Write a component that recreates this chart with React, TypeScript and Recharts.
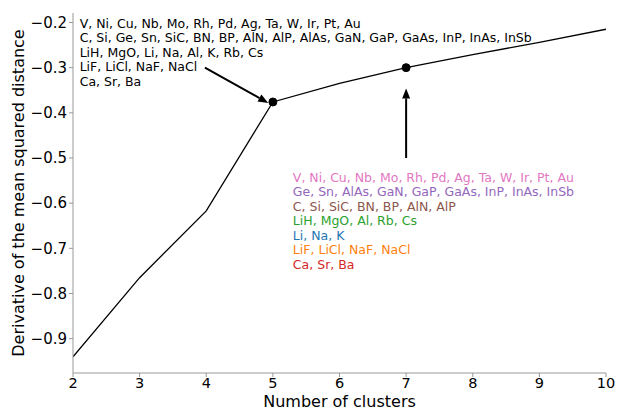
import React from "react";
import {
  LineChart, Line, XAxis, YAxis, ReferenceDot, ReferenceLine,
} from "recharts";

// k-means: derivative of mean squared distance vs number of clusters
const clusters = [2, 3, 4, 5, 6, 7, 8, 9, 10];
const derivative = [-0.94, -0.765, -0.617, -0.376, -0.335, -0.3, -0.271, -0.244, -0.215];

const xTicks = [2, 3, 4, 5, 6, 7, 8, 9, 10];
const yTicks = [-0.9, -0.8, -0.7, -0.6, -0.5, -0.4, -0.3, -0.2];

// groupings for 5 clusters (black) and 7 clusters (coloured)
const groups5 = [
  "V, Ni, Cu, Nb, Mo, Rh, Pd, Ag, Ta, W, Ir, Pt, Au",
  "C, Si, Ge, Sn, SiC, BN, BP, AlN, AlP, AlAs, GaN, GaP, GaAs, InP, InAs, InSb",
  "LiH, MgO, Li, Na, Al, K, Rb, Cs",
  "LiF, LiCl, NaF, NaCl",
  "Ca, Sr, Ba",
];
const groups7 = [
  "V, Ni, Cu, Nb, Mo, Rh, Pd, Ag, Ta, W, Ir, Pt, Au",
  "Ge, Sn, AlAs, GaN, GaP, GaAs, InP, InAs, InSb",
  "C, Si, SiC, BN, BP, AlN, AlP",
  "LiH, MgO, Al, Rb, Cs",
  "Li, Na, K",
  "LiF, LiCl, NaF, NaCl",
  "Ca, Sr, Ba",
];
const groups7Colors = ["#e377c2", "#9467bd", "#8c564b", "#2ca02c", "#1f77b4", "#ff7f0e", "#d62728"];

const data = clusters.map((k, i) => ({ k, d: derivative[i] }));

const FONT = "'DejaVu Sans', sans-serif";
const SPINE = "#999";

function Arrow(props: any) {
  const { x1, y1, x2, y2 } = props;
  const ang = Math.atan2(y2 - y1, x2 - x1);
  const len = 10, half = 4;
  const bx = x2 - len * Math.cos(ang), by = y2 - len * Math.sin(ang);
  const px = -Math.sin(ang) * half, py = Math.cos(ang) * half;
  return (
    <g>
      <line x1={x1} y1={y1} x2={bx} y2={by} stroke="#000" strokeWidth={2} />
      <polygon points={`${x2},${y2} ${bx + px},${by + py} ${bx - px},${by - py}`} fill="#000" />
    </g>
  );
}

function TextBlock({ cx, cy, lines, colors }: any) {
  return (
    <text x={cx} y={cy} fontFamily={FONT} fontSize={12.5}>
      {lines.map((l: string, i: number) => (
        <tspan key={i} x={cx} y={cy + i * 14.5} fill={colors ? colors[i] : "#000"}>{l}</tspan>
      ))}
    </text>
  );
}

const fmt = (v: number) => (v < 0 ? "\u2212" + Math.abs(v).toFixed(1) : v.toFixed(1));

export default function App() {
  return (
    <div style={{ position: "absolute", left: 0, top: 0, width: 617, height: 411, background: "#fff" }}>
      <LineChart width={617} height={411} data={data} margin={{ top: 13, right: 11, bottom: 0, left: 0 }}>
        <XAxis
          dataKey="k" type="number" domain={[2, 10]} ticks={xTicks} allowDataOverflow
          height={38} tickSize={4} tickMargin={1}
          tick={{ fontSize: 14.5, fill: "#000", fontFamily: FONT }}
          axisLine={{ stroke: SPINE }} tickLine={{ stroke: SPINE }}
          label={{
            content: ({ viewBox }: any) => (
              <text x={viewBox.x + viewBox.width / 2} y={407} textAnchor="middle" fontSize={16} fontFamily={FONT} fill="#000">
                Number of clusters
              </text>
            ),
          }}
        />
        <XAxis xAxisId="top" orientation="top" dataKey="k" type="number" domain={[2, 10]} height={0}
          tick={false} tickLine={false} axisLine={{ stroke: SPINE }} />
        <YAxis
          type="number" domain={[-0.976, -0.179]} ticks={yTicks} allowDataOverflow
          width={73} tickSize={4} tickMargin={2} tickFormatter={fmt}
          tick={{ fontSize: 15, fill: "#000", fontFamily: FONT }}
          axisLine={{ stroke: SPINE }} tickLine={{ stroke: SPINE }}
          label={{
            content: ({ viewBox }: any) => {
              const x = 18, y = viewBox.y + viewBox.height / 2;
              return (
                <text x={x} y={y} transform={`rotate(-90 ${x} ${y})`} textAnchor="middle"
                  dominantBaseline="central" fontSize={16} fontFamily={FONT} fill="#000">
                  Derivative of the mean squared distance
                </text>
              );
            },
          }}
        />
        <YAxis yAxisId="right" orientation="right" type="number" domain={[-0.976, -0.179]} width={0}
          tick={false} tickLine={false} axisLine={{ stroke: SPINE }} />
        <Line dataKey="d" stroke="#000" strokeWidth={1.3} dot={false} isAnimationActive={false} />
        <ReferenceDot x={5} y={-0.376} r={4} fill="#000" stroke="#000" />
        <ReferenceDot x={7} y={-0.3} r={4} fill="#000" stroke="#000" />
        <ReferenceLine segment={[{ x: 3.98, y: -0.3 }, { x: 4.93, y: -0.378 }]} shape={Arrow} />
        <ReferenceLine segment={[{ x: 7, y: -0.5 }, { x: 7, y: -0.346 }]} shape={Arrow} />
        <ReferenceDot x={2.1} y={-0.2} r={0}
          shape={(p: any) => <TextBlock cx={p.cx} cy={p.cy + 5.5} lines={groups5} />} />
        <ReferenceDot x={5.3} y={-0.55} r={0}
          shape={(p: any) => <TextBlock cx={p.cx} cy={p.cy + 1} lines={groups7} colors={groups7Colors} />} />
      </LineChart>
    </div>
  );
}
